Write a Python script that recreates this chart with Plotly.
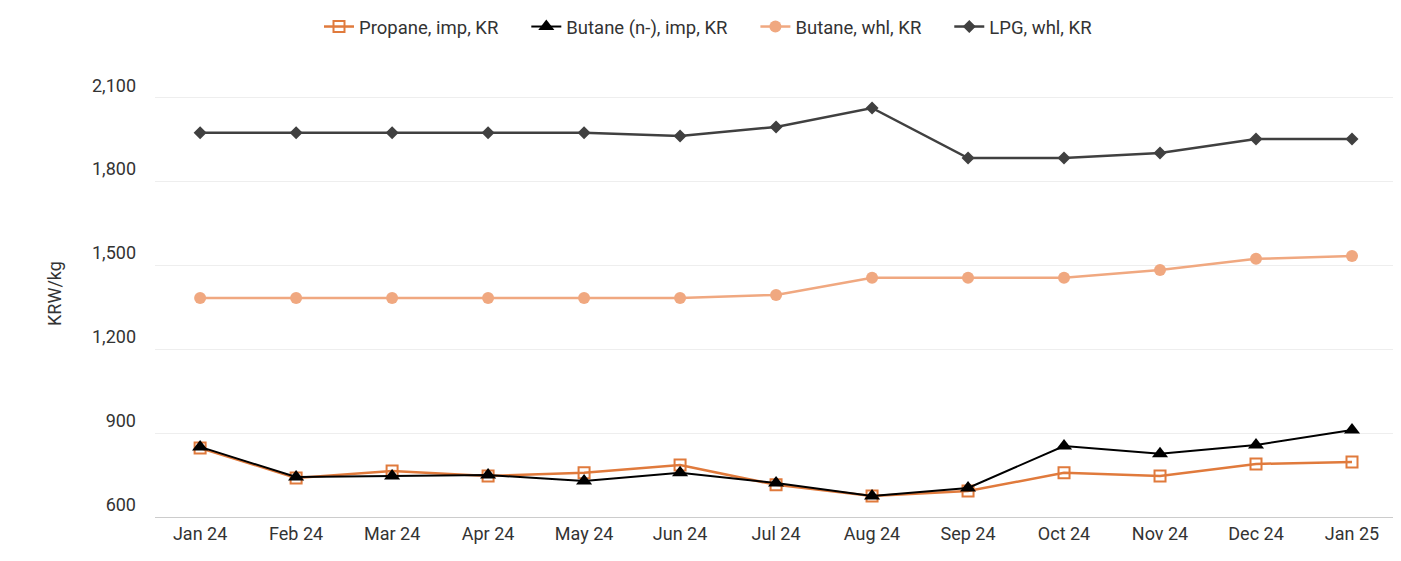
import plotly.graph_objects as go

months = ["Jan 24", "Feb 24", "Mar 24", "Apr 24", "May 24", "Jun 24", "Jul 24",
          "Aug 24", "Sep 24", "Oct 24", "Nov 24", "Dec 24", "Jan 25"]
propane_imp = [847, 740, 765, 747, 758, 786, 715, 675, 693, 758, 747, 790, 797]
butane_imp = [851, 743, 747, 750, 729, 758, 722, 675, 704, 854, 826, 858, 911]
butane_whl = [1384, 1384, 1384, 1384, 1384, 1384, 1395, 1456, 1456, 1456, 1484, 1524, 1534]
lpg_whl = [1975, 1975, 1975, 1975, 1975, 1964, 1996, 2064, 1885, 1885, 1903, 1953, 1953]

pad = "\u00a0" * 5
fig = go.Figure()
fig.add_trace(go.Scatter(x=months, y=propane_imp, name="Propane, imp, KR" + pad, mode="lines+markers",
                         line=dict(color="#e07a3c", width=2.5),
                         marker=dict(symbol="square-open", size=11, color="#e07a3c", line=dict(width=2))))
fig.add_trace(go.Scatter(x=months, y=butane_imp, name="Butane (n-), imp, KR" + pad, mode="lines+markers",
                         line=dict(color="#000000", width=2),
                         marker=dict(symbol="triangle-up", size=14, color="#000000")))
fig.add_trace(go.Scatter(x=months, y=butane_whl, name="Butane, whl, KR" + pad, mode="lines+markers",
                         line=dict(color="#f0a880", width=2.5),
                         marker=dict(symbol="circle", size=12, color="#f0a880")))
fig.add_trace(go.Scatter(x=months, y=lpg_whl, name="LPG, whl, KR", mode="lines+markers",
                         line=dict(color="#404040", width=2.5),
                         marker=dict(symbol="diamond", size=10, color="#404040")))

fig.update_layout(
    width=1401, height=561,
    plot_bgcolor="white", paper_bgcolor="white",
    font=dict(family="Roboto", size=18, color="#333333"),
    margin=dict(l=147, r=9, t=62, b=52),
    legend=dict(orientation="h", x=0.5, xanchor="center", xref="container",
                y=1, yanchor="top", yref="container", font=dict(size=18.5)),
    xaxis=dict(showgrid=False, showline=True, linecolor="#cccccc", ticks="", range=[-0.47, 12.5]),
    yaxis=dict(title=dict(text="KRW/kg", font=dict(size=18), standoff=25), range=[600, 2200],
               tickvals=[600, 900, 1200, 1500, 1800, 2100], tickformat=",",
               gridcolor="#eeeeee", zeroline=False, ticklabelposition="outside top",
               ticklabelstandoff=18),
)
fig.write_html("out.html")
